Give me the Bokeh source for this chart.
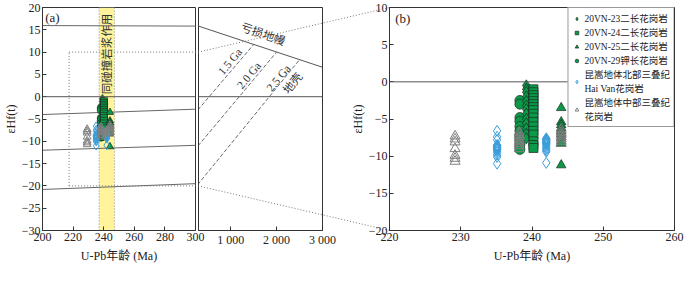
import math
from bokeh.plotting import figure
from bokeh.models import GridBox, FixedTicker, Legend, LegendItem, Span, BoxAnnotation
from bokeh.embed import file_html
from bokeh.resources import INLINE
from bokeh.core.properties import value

# ---------------- data ----------------
VN23_AGE = 239.2
VN23_EHF = [-0.5, -1.0, -1.4, -2.0, -2.6, -3.2, -3.7, -4.3, -5.0, -5.6, -6.3, -7.0, -7.6]
VN24_AGE = 240.2
VN24_EHF = [-1.0, -1.4, -1.8, -2.2, -2.6, -3.0, -3.4, -3.8, -4.3, -4.8, -5.4, -6.0, -6.6, -7.1, -8.0, -8.5, -8.9]
VN25_AGE = 244.1
VN25_EHF = [-3.5, -5.4, -5.8, -6.2, -6.6, -7.0, -7.5, -8.0, -8.3, -11.2]
VN29_AGE = 238.3
VN29_EHF = [-2.5, -3.0, -4.8, -5.3, -6.0, -6.6, -7.2, -7.8, -8.5, -9.1]
HV_AGE = [235.1, 242.0]
HV_EHF_1 = [-6.6, -7.4, -7.8, -8.5, -8.6, -8.7, -8.8, -8.9, -9.0, -9.1, -9.3, -9.5, -9.8, -10.1, -11.0]
HV_EHF_2 = [-7.6, -7.7, -7.8, -7.9, -8.0, -8.1, -8.2, -8.3, -8.4, -8.6, -8.8, -9.0, -9.2, -9.4, -10.9]
KC_AGE = [229.2, 238.2, 244.1]
KC_EHF_1 = [-7.3, -7.7, -8.1, -9.0, -9.9, -10.3, -10.7]
KC_EHF_2 = [-6.8, -7.1, -7.4, -7.7, -8.0, -8.3, -8.6, -9.0]
KC_EHF_3 = [-6.4, -6.8, -7.1, -7.4, -7.7, -8.0, -8.3]

DM_AGE = [200, 300, 3000]
DM_EHF = [15.95, 15.83, 6.6]
CRUST_START_AGE = [200, 300]
CRUST_MODEL_AGE = [1500, 2000, 2500]
CRUST_EHF_200 = [-4.0, -12.0, -20.8]
CRUST_EHF_300 = [-2.8, -10.9, -19.5]
CRUST_EHF_MODEL = [11.7, 10.0, 8.3]
CRUST_LABELS = ["1.5 Ga", "2.0 Ga", "2.5 Ga"]
COLLISION_AGE = [237, 247]

A_X = (200, 300)
A_Y = (-30, 20)
C_X = (300, 3000)
B_X = (220, 260)
B_Y = (-20, 10)
A_XTICKS = [200, 220, 240, 260, 280, 300]
A_YTICKS = [-30, -25, -20, -15, -10, -5, 0, 5, 10, 15, 20]
C_XTICKS = [1000, 2000, 3000]
B_XTICKS = [220, 230, 240, 250, 260]
B_YTICKS = [-20, -15, -10, -5, 0, 5, 10]

LEGEND_LABELS = ["20VN-23二长花岗岩", "20VN-24二长花岗岩", "20VN-25二长花岗岩",
                 "20VN-29钾长花岗岩", "昆嵩地体北部三叠纪\nHai Van花岗岩", "昆嵩地体中部三叠纪\n花岗岩"]

# ---------------- layout / style ----------------
W, H = 684, 270
FT, FB = 7, 40
A_L, A_R = 37, 195
C_L, C_R = 198, 322
B_L, B_R = 389, 674

SERIF = "Liberation Serif, Noto Sans CJK SC"
INK = "#333333"
GREEN = "#0a9a4a"
EDGE = "#1d2b1f"
BLUE = "#3a9edb"
GRAY = "#808080"
YELLOW = "#fff49c"


def minus(ticks):
    return {t: "\u2212" + str(abs(t)) for t in ticks if t < 0}


def base_fig(left, right, xr, yr, xloc="below", yloc="left", bg=None):
    p = figure(width=W, height=H, x_range=xr, y_range=yr,
               x_axis_location=xloc, y_axis_location=yloc,
               output_backend="svg", toolbar_location=None,
               min_border_left=left, min_border_right=W - right,
               min_border_top=FT, min_border_bottom=FB,
               background_fill_color=bg, border_fill_color=bg)
    p.frame_align = False
    p.grid.visible = False
    p.outline_line_color = INK
    p.outline_line_width = 1
    for ax in p.axis:
        ax.major_tick_in = 4
        ax.major_tick_out = 0
        ax.minor_tick_line_color = None
        ax.axis_line_color = INK
        ax.major_tick_line_color = INK
        ax.major_label_text_font = SERIF
        ax.major_label_text_font_size = "12px"
        ax.major_label_text_color = "#222222"
        ax.major_label_standoff = 2
        ax.axis_label_text_font = SERIF
        ax.axis_label_text_font_size = "12px"
        ax.axis_label_text_font_style = "normal"
        ax.axis_label_text_color = "#222222"
        ax.axis_label_standoff = 1
    for ax in p.xaxis:
        ax.axis_label_standoff = 5
    return p


def draw_samples(p, k):
    r = {}
    r["29"] = p.scatter([VN29_AGE] * len(VN29_EHF), VN29_EHF, marker="circle", size=10 * k,
                        fill_color=GREEN, line_color=EDGE, line_width=0.7)
    r["23"] = p.scatter([VN23_AGE] * len(VN23_EHF), VN23_EHF, marker="diamond",
                        size=11.5 * k, fill_color=GREEN, line_color=EDGE, line_width=0.7)
    r["24"] = p.scatter([VN24_AGE] * len(VN24_EHF), VN24_EHF, marker="square", size=9 * k,
                        fill_color=GREEN, line_color=EDGE, line_width=0.7)
    r["25"] = p.scatter([VN25_AGE] * len(VN25_EHF), VN25_EHF, marker="triangle", size=9.5 * k,
                        fill_color=GREEN, line_color=EDGE, line_width=0.7)
    hv_x = [HV_AGE[0]] * len(HV_EHF_1) + [HV_AGE[1]] * len(HV_EHF_2)
    r["hv"] = p.scatter(hv_x, HV_EHF_1 + HV_EHF_2, marker="diamond", size=11 * k,
                        fill_color=None, line_color=BLUE, line_width=1)
    kc_x = [KC_AGE[0]] * len(KC_EHF_1) + [KC_AGE[1]] * len(KC_EHF_2) + [KC_AGE[2]] * len(KC_EHF_3)
    r["kc"] = p.scatter(kc_x, KC_EHF_1 + KC_EHF_2 + KC_EHF_3, marker="triangle", size=10 * k,
                        fill_color=None, line_color=GRAY, line_width=1)
    return r


crust_xs = [CRUST_START_AGE + [m] for m in CRUST_MODEL_AGE]
crust_ys = [[a, b, c] for a, b, c in zip(CRUST_EHF_200, CRUST_EHF_300, CRUST_EHF_MODEL)]

# ---------------- panel (a), left box ----------------
fa = base_fig(A_L, A_R, A_X, A_Y, bg="white")
fa.xaxis.ticker = FixedTicker(ticks=A_XTICKS)
fa.yaxis.ticker = FixedTicker(ticks=A_YTICKS)
fa.yaxis.major_label_overrides = minus(A_YTICKS)
fa.xaxis.axis_label = "U-Pb年龄 (Ma)"
fa.yaxis.axis_label = "εHf(t)"
fa.add_layout(BoxAnnotation(left=COLLISION_AGE[0], right=COLLISION_AGE[1], fill_color=YELLOW,
                            fill_alpha=1, line_color=None, level="underlay"))
for a in COLLISION_AGE:
    fa.add_layout(Span(location=a, dimension="height", line_color="#888888", line_width=1,
                       line_dash="1 2", level="underlay"))
fa.add_layout(Span(location=0, dimension="width", line_color="#555555", line_width=1))
fa.line(DM_AGE, DM_EHF, line_color="#666666", line_width=1)
fa.multi_line(crust_xs, crust_ys, line_color="#666666", line_width=1)
fa.text(x=[sum(COLLISION_AGE) / 2], y=[9.6], text=["同碰撞岩浆作用"], angle=math.pi / 2,
        text_align="center", text_baseline="middle", text_font=value(SERIF),
        text_font_size="11.5px", text_color="#333333")
draw_samples(fa, 0.78)
fa.text(x=[201.8], y=[19.4], text=["(a)"], text_baseline="top", text_align="left",
        text_font=value(SERIF), text_font_size="13px", text_color="#222222")

# ---------------- panel (a), right box ----------------
fc = base_fig(C_L, C_R, C_X, A_Y, yloc=None)
fc.xaxis.ticker = FixedTicker(ticks=C_XTICKS)
fc.xaxis.major_label_overrides = {t: f"{t // 1000} {t % 1000:03d}" for t in C_XTICKS}
fc.add_layout(Span(location=0, dimension="width", line_color="#555555", line_width=1))
fc.line(DM_AGE, DM_EHF, line_color="#555555", line_width=1)
fc.multi_line(crust_xs, crust_ys, line_color="#444444", line_width=0.8, line_dash="4 2")
txt = dict(text_align="center", text_baseline="middle", text_font=value(SERIF),
           text_font_size="11.5px", text_color="#333333")
fc.text(x=[985, 1400, 2040], y=[7.9, 4.8, 4.2], text=CRUST_LABELS, angle=0.88, **txt)
fc.text(x=[2352], y=[3.0], text=["地壳"], angle=0.88, **txt)
fc.text(x=[1704], y=[14.0], text=["亏损地幔"], angle=-0.33, **txt)

# ---------------- panel (b) ----------------
fb = base_fig(B_L, B_R, B_X, B_Y)
fb.xaxis.ticker = FixedTicker(ticks=B_XTICKS)
fb.yaxis.ticker = FixedTicker(ticks=B_YTICKS)
fb.yaxis.major_label_overrides = minus(B_YTICKS)
fb.xaxis.axis_label = "U-Pb年龄 (Ma)"
fb.yaxis.axis_label = "εHf(t)"
fb.add_layout(Span(location=0, dimension="width", line_color="#555555", line_width=1))
rb = draw_samples(fb, 1.0)
fb.text(x=[220.8], y=[9.5], text=["(b)"], text_baseline="top", text_align="left",
        text_font=value(SERIF), text_font_size="13px", text_color="#222222")
order = ["23", "24", "25", "29", "hv", "kc"]
legend = Legend(items=[LegendItem(label=lab, renderers=[rb[k]]) for k, lab in zip(order, LEGEND_LABELS)],
                location="top_right", margin=0, padding=3, spacing=0,
                label_text_font=SERIF, label_text_font_size="9.5px", label_standoff=3,
                glyph_width=10, glyph_height=9, label_height=9, label_text_line_height=0.72,
                border_line_color=INK, border_line_width=1, background_fill_color="white",
                background_fill_alpha=1, label_text_color="#222222")
fb.add_layout(legend)

# ---------------- overlay: zoom window and connectors ----------------
PX_PER_MA = (A_R - A_L) / (A_X[1] - A_X[0])
D_END = A_X[0] + (B_L - A_L) / PX_PER_MA
GAP_X = A_X[0] + (C_L - A_L) / PX_PER_MA
fd = base_fig(A_L, B_L, (A_X[0], D_END), A_Y, xloc=None, yloc=None)
fd.outline_line_color = None
fd.multi_line(xs=[[B_X[0], B_X[0]], [B_X[0], GAP_X, D_END], [B_X[0], GAP_X, D_END]],
              ys=[[B_Y[0], B_Y[1]], [B_Y[1], B_Y[1], A_Y[1]], [B_Y[0], B_Y[0], A_Y[0]]],
              line_color="#777777", line_width=1, line_dash="1 2")

grid = GridBox(children=[(fa, 0, 0), (fc, 0, 0), (fb, 0, 0), (fd, 0, 0)])
open("out.html", "w").write(file_html(grid, INLINE))
